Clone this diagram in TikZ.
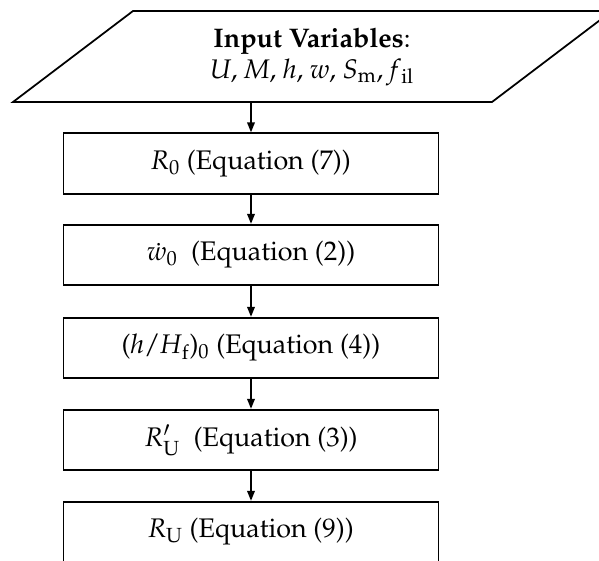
\documentclass[tikz,border=0pt]{standalone}
\usepackage[T1]{fontenc}
\usepackage{amsmath}
\usepackage{mathpazo}
\usetikzlibrary{arrows.meta}
\tikzset{
  stepbox/.style={draw, line width=1pt, minimum width=7.5cm, minimum height=1.21cm, inner sep=0pt},
  flow/.style={-{Triangle[length=2mm,width=1.5mm]}, line width=1pt}
}
\begin{document}
\begin{tikzpicture}[x=0.2mm,y=-0.2mm,font=\fontsize{15.3}{17.5}\selectfont]
\useasboundingbox (0,0) rectangle (599,560);
\clip (0,0) rectangle (599,560);
% input data
\draw[line width=1pt] (13,102) -- (133,11) -- (612,11) -- (492,102) -- cycle;
\node[align=center] (inp) at (312,57) {\textbf{Input Variables}:\\ \textit{U}, \textit{M}, \textit{h}, \textit{w}, \textit{S}\textsubscript{m}, \textit{f}\textsubscript{il}};
\coordinate (inpb) at (251,102);
% steps
\node[stepbox] (r0) at (251,163.5) {\textit{R}\textsubscript{0} (Equation (7))};
\node[stepbox] (w0) at (251,255) {$\dot{w}_0$\ \ (Equation (2))};
\node[stepbox] (hH) at (251,348) {(\textit{h}/\textit{H}\textsubscript{f})\textsubscript{0} (Equation (4))};
\node[stepbox] (ru1) at (251,440) {$R'_{\mathrm{U}}$\ \ (Equation (3))};
\node[stepbox] (ru) at (251,532) {\textit{R}\textsubscript{U} (Equation (9))};
\draw[flow] (inpb) -- (r0.north);
\draw[flow] (r0) -- (w0);
\draw[flow] (w0) -- (hH);
\draw[flow] (hH) -- (ru1);
\draw[flow] (ru1) -- (ru);
\end{tikzpicture}
\end{document}
